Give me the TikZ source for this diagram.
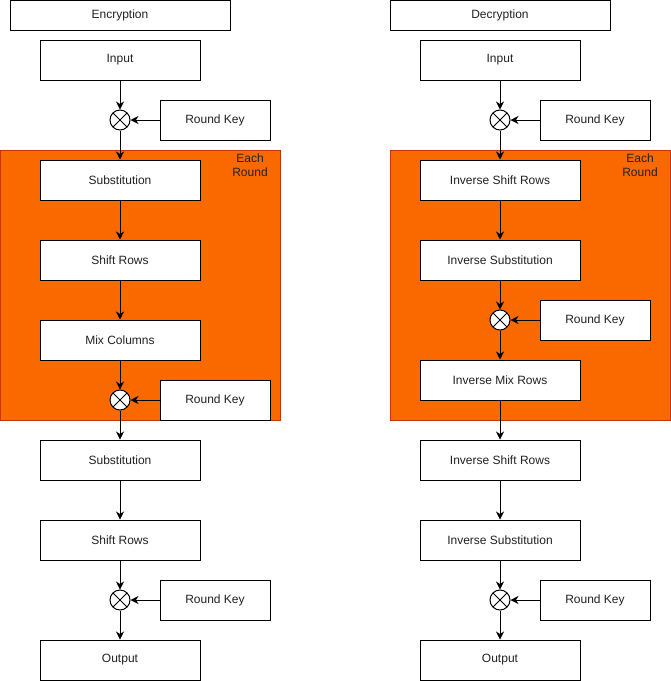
\documentclass[tikz,border=0pt]{standalone}
\usepackage{fontspec}
\setmainfont{Liberation Sans}
\usetikzlibrary{arrows.meta}
\definecolor{roundfill}{HTML}{FA6800}
\definecolor{roundline}{HTML}{C73500}
\definecolor{textgray}{HTML}{222222}
\tikzset{
  stage/.style={draw, fill=white, minimum width=160pt, minimum height=40pt, inner sep=0pt},
  titlebox/.style={stage, minimum width=220pt, minimum height=30pt},
  keybox/.style={stage, minimum width=110pt},
  xor/.style={circle, draw, fill=white, minimum size=20pt, inner sep=0pt,
    path picture={\draw (path picture bounding box.north west) -- (path picture bounding box.south east)
      (path picture bounding box.north east) -- (path picture bounding box.south west);}},
  flow/.style={-{Stealth[length=8pt,width=8pt,inset=2.5pt]}}
}
\begin{document}
\begin{tikzpicture}[x=1pt, y=-1pt, line width=1pt,
  every node/.style={font=\fontsize{12}{14}\selectfont, text=textgray}]
  \useasboundingbox (0,0) rectangle (671,681);

  % Rundy
  \draw[roundline, fill=roundfill] (0,150) rectangle (280,420);
  \draw[roundline, fill=roundfill] (390,150) rectangle (670,420);
  \node[align=center] (e-each) at (250,165) {Each\\Round};
  \node[align=center] (d-each) at (640,165) {Each\\Round};

  % Szyfrowanie
  \node[titlebox] (e-title) at (120,15) {Encryption};
  \node[stage] (e-in) at (120,60) {Input};
  \node[xor] (e-x1) at (120,120) {};
  \node[keybox] (e-k1) at (215,120) {Round Key};
  \node[stage] (e-sub1) at (120,180) {Substitution};
  \node[stage] (e-shift1) at (120,260) {Shift Rows};
  \node[stage] (e-mix) at (120,340) {Mix Columns};
  \node[xor] (e-x2) at (120,400) {};
  \node[keybox] (e-k2) at (215,400) {Round Key};
  \node[stage] (e-sub2) at (120,460) {Substitution};
  \node[stage] (e-shift2) at (120,540) {Shift Rows};
  \node[xor] (e-x3) at (120,600) {};
  \node[keybox] (e-k3) at (215,600) {Round Key};
  \node[stage] (e-out) at (120,660) {Output};

  % Deszyfrowanie
  \node[titlebox] (d-title) at (500,15) {Decryption};
  \node[stage] (d-in) at (500,60) {Input};
  \node[xor] (d-x1) at (500,120) {};
  \node[keybox] (d-k1) at (595,120) {Round Key};
  \node[stage] (d-shift1) at (500,180) {Inverse Shift Rows};
  \node[stage] (d-sub1) at (500,260) {Inverse Substitution};
  \node[xor] (d-x2) at (500,320) {};
  \node[keybox] (d-k2) at (595,320) {Round Key};
  \node[stage] (d-mix) at (500,380) {Inverse Mix Rows};
  \node[stage] (d-shift2) at (500,460) {Inverse Shift Rows};
  \node[stage] (d-sub2) at (500,540) {Inverse Substitution};
  \node[xor] (d-x3) at (500,600) {};
  \node[keybox] (d-k3) at (595,600) {Round Key};
  \node[stage] (d-out) at (500,660) {Output};

  % Strzałki
  \foreach \a/\b in {e-in/e-x1, e-x1/e-sub1, e-sub1/e-shift1, e-shift1/e-mix, e-mix/e-x2,
      e-x2/e-sub2, e-sub2/e-shift2, e-shift2/e-x3, e-x3/e-out,
      d-in/d-x1, d-x1/d-shift1, d-shift1/d-sub1, d-sub1/d-x2, d-x2/d-mix,
      d-mix/d-shift2, d-shift2/d-sub2, d-sub2/d-x3, d-x3/d-out}
    \draw[flow] (\a) -- (\b);
  \foreach \k/\x in {e-k1/e-x1, e-k2/e-x2, e-k3/e-x3, d-k1/d-x1, d-k2/d-x2, d-k3/d-x3}
    \draw[flow] (\k) -- (\x);
\end{tikzpicture}
\end{document}
